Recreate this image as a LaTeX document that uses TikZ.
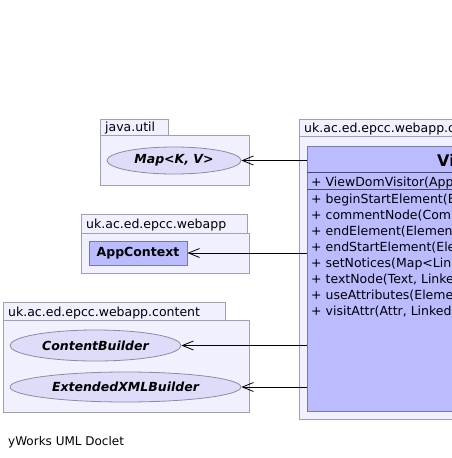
\documentclass[tikz,border=0pt]{standalone}
\usepackage{fontspec}
\setmainfont{DejaVu Sans}
\usetikzlibrary{shapes.geometric,arrows.meta}
\definecolor{pkgfill}{RGB}{240,240,255}
\definecolor{pkgline}{RGB}{160,160,176}
\definecolor{ellfill}{RGB}{221,221,250}
\definecolor{ellline}{RGB}{140,140,160}
\definecolor{clsfill}{RGB}{187,187,255}
\definecolor{clsline}{RGB}{120,120,160}
\tikzset{
  pkg/.style={draw=pkgline,fill=pkgfill,line width=1pt},
  pkglabel/.style={anchor=base west,inner sep=0pt,font=\fontsize{12.5}{14}\selectfont},
  iface/.style={ellipse,draw=ellline,fill=ellfill,line width=0.8pt,inner sep=0pt,font=\fontsize{12.5}{14}\selectfont\bfseries\itshape},
  cbox/.style={rectangle,draw=clsline,fill=clsfill,line width=1pt,inner sep=0pt,font=\fontsize{12.5}{14}\selectfont\bfseries},
  member/.style={anchor=base west,inner sep=0pt,font=\fontsize{12.5}{14}\selectfont},
  dep/.style={-{Straight Barb[length=11pt,width=9pt,line width=0.8pt]},line width=1pt,black}
}
\begin{document}
\begin{tikzpicture}[x=1pt,y=-1pt]
\useasboundingbox (0,0) rectangle (452,458);
\clip (0,0) rectangle (452,458);
% java.util
\draw[pkg] (100,119) rectangle (168,135);
\draw[pkg] (100,135) rectangle (249,185);
\node[pkglabel] (pjava) at (105,131) {java.util};
\node[iface,minimum width=134pt,minimum height=27pt] (map) at (174,160.5) {Map<K, V>};
% uk.ac.ed.epcc.webapp
\draw[pkg] (81,214) rectangle (247,233);
\draw[pkg] (81,233) rectangle (249,273);
\node[pkglabel] (pweb) at (86,228) {uk.ac.ed.epcc.webapp};
\node[cbox,minimum width=98pt,minimum height=24pt] (app) at (138,253) {AppContext};
% content
\draw[pkg] (3,302) rectangle (225,320);
\draw[pkg] (3,320) rectangle (249,412);
\node[pkglabel] (pcont) at (8,316) {uk.ac.ed.epcc.webapp.content};
\node[iface,minimum width=171pt,minimum height=31pt] (cb) at (95.5,345.5) {ContentBuilder};
\node[iface,minimum width=231pt,minimum height=30pt] (xb) at (125.5,387) {ExtendedXMLBuilder};
% right package
\draw[pkg] (299,119) rectangle (700,136);
\draw[pkg] (299,136) rectangle (720,419);
\node[pkglabel] (pright) at (304,132) {uk.ac.ed.epcc.webapp.content.html};
\node[cbox,anchor=north west,minimum width=380pt,minimum height=265pt] (cls) at (307,146) {};
\node[anchor=base west,inner sep=0pt,font=\fontsize{16}{18}\selectfont\bfseries] (title) at (437,166) {ViewDomVisitor};
\draw[clsline!60!black,line width=1pt] (307,172) -- (700,172);
\draw[clsline!60!black,line width=1pt] (307,189) -- (700,189);
\node[member] (m0) at (311,186) {+ ViewDomVisitor(AppContext)};
\node[member] (m1) at (311,203) {+ beginStartElement(Element, LinkedList)};
\node[member] (m2) at (311,219) {+ commentNode(Comment, LinkedList)};
\node[member] (m3) at (311,235) {+ endElement(Element, LinkedList)};
\node[member] (m4) at (311,251) {+ endStartElement(Element, LinkedList)};
\node[member] (m5) at (311,267) {+ setNotices(Map<LinkedList, Object>)};
\node[member] (m6) at (311,283) {+ textNode(Text, LinkedList)};
\node[member] (m7) at (311,299) {+ useAttributes(Element, LinkedList)};
\node[member] (m8) at (311,315) {+ visitAttr(Attr, LinkedList)};
% dependencies
\draw[dep] (cls.west |- map.east) -- (map.east);
\draw[dep] (cls.west |- app.east) -- (app.east);
\draw[dep] (cls.west |- cb.east) -- (cb.east);
\draw[dep] (cls.west |- xb.east) -- (xb.east);
\node[anchor=base west,inner sep=0pt,font=\fontsize{12}{14}\selectfont] (foot) at (8,445) {yWorks UML Doclet};
\end{tikzpicture}
\end{document}
